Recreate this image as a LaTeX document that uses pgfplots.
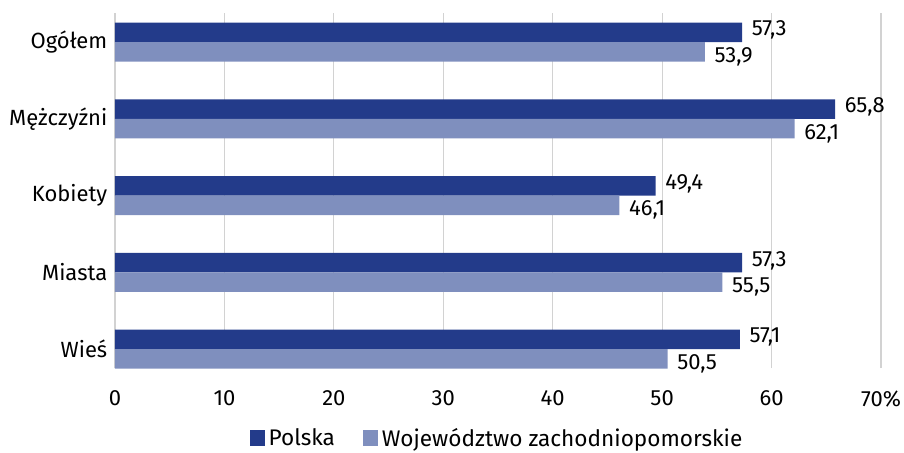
\documentclass[border=0pt]{standalone}
\usepackage{fontspec}
\setmainfont{Fira Sans}
\usepackage{pgfplots}
\pgfplotsset{compat=1.18}
\definecolor{cdark}{RGB}{35,59,138}
\definecolor{clight}{RGB}{127,143,190}
\definecolor{cgrid}{RGB}{210,210,210}
\begin{document}
\fontsize{11}{13}\selectfont
\begin{tikzpicture}
\useasboundingbox (-57.5pt,-42pt) rectangle (394.5pt,184pt);
\begin{axis}[
  at={(0pt,0pt)}, anchor=south west,
  scale only axis, width=383pt, height=177.5pt,
  xbar, bar width=9.75pt,
  xmin=0, xmax=70,
  ymin=-0.2476, ymax=4.378,
  xtick={0,10,...,70},
  xticklabels={0,10,20,30,40,50,60,70\%},
  ytick={0,1,2,3,4},
  yticklabels={Wieś,Miasta,Kobiety,Mężczyźni,Ogółem},
  major tick length=0pt,
  axis line style={draw=none},
  xmajorgrids, grid style={cgrid, line width=0.6pt},
  /pgf/number format/assume math mode=true,
  xticklabel style={yshift=-7.5pt, font=\fontsize{11}{13}\selectfont},
  yticklabel style={font=\fontsize{11}{13}\selectfont},
  nodes near coords,
  /pgf/number format/.cd, use comma, fixed, fixed zerofill, precision=1,
  /pgfplots/.cd,
  legend style={at={(0.5,-0.2)}, anchor=center, draw=none, legend columns=-1,
    font=\fontsize{11.3}{13}\selectfont,
    /tikz/every even column/.append style={column sep=12pt}},
  legend image code/.code={\fill[#1] (0pt,-3.6pt) rectangle (7.5pt,4.4pt);},
]
\addplot[fill=cdark, draw=none, bar shift=4.875pt,
  nodes near coords style={anchor=west, xshift=1pt, yshift=1pt, font=\fontsize{11}{13}\selectfont}]
  coordinates {(57.3,4) (65.8,3) (49.4,2) (57.3,1) (57.1,0)};
\addplot[fill=clight, draw=none, bar shift=-4.875pt,
  nodes near coords style={anchor=west, xshift=1pt, yshift=-2.5pt, font=\fontsize{11}{13}\selectfont}]
  coordinates {(53.9,4) (62.1,3) (46.1,2) (55.5,1) (50.5,0)};
\legend{Polska, Województwo zachodniopomorskie}
\end{axis}
\end{tikzpicture}
\end{document}
